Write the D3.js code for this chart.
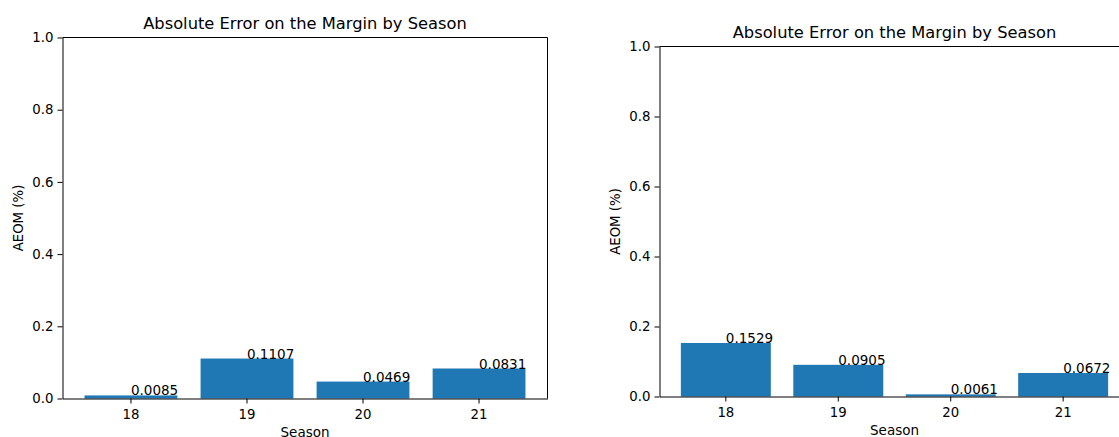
<!DOCTYPE html>
<head>
    <meta charset="utf-8">
    <script src="https://d3js.org/d3.v7.min.js"></script>
    <style>
        body { margin:0; background:#fff; }
        svg { font-family: "DejaVu Sans", sans-serif; }
        .tick line, .domain { stroke: #000; }
    </style>
</head>
<body>
    <svg id="svgelem" width="1119" height="437"></svg>

    <script>
        // data
        var seasons = ["18", "19", "20", "21"];
        var leftValues = [0.0085, 0.1107, 0.0469, 0.0831];
        var rightValues = [0.1529, 0.0905, 0.0061, 0.0672];
        var yTicks = [0, 0.2, 0.4, 0.6, 0.8, 1.0];

        var svg = d3.select("#svgelem");

        function drawpanel(values, box) {
            var x = d3.scaleBand().domain(seasons).range([box.x0, box.x1])
                .paddingInner(0.2).paddingOuter(0.19);
            var y = d3.scaleLinear().domain([0, 1]).range([box.y1, box.y0]);
            var g = svg.append("g");

            // bars
            g.selectAll(".bar")
                .data(values)
                .enter().append("rect")
                .attr("class", "bar")
                .attr("x", function(d, i) { return x(seasons[i]); })
                .attr("width", x.bandwidth())
                .attr("y", function(d) { return y(d); })
                .attr("height", function(d) { return y(0) - y(d); })
                .attr("fill", "#1f77b4");

            // value labels start at bar centre, baseline on the bar top
            g.selectAll(".lbl")
                .data(values)
                .enter().append("text")
                .attr("class", "lbl")
                .attr("x", function(d, i) { return x(seasons[i]) + x.bandwidth() / 2; })
                .attr("y", function(d) { return y(d); })
                .attr("font-size", "13.5px")
                .text(function(d) { return d.toFixed(4); });

            // axes
            var xa = g.append("g").attr("transform", "translate(0," + box.y1 + ")")
                .call(d3.axisBottom(x).tickSize(5).tickPadding(6).tickSizeOuter(0));
            var ya = g.append("g").attr("transform", "translate(" + box.x0 + ",0)")
                .call(d3.axisLeft(y).tickValues(yTicks).tickFormat(d3.format(".1f"))
                    .tickSize(5).tickPadding(4).tickSizeOuter(0));
            [xa, ya].forEach(function(a) {
                a.attr("font-family", "DejaVu Sans, sans-serif");
                a.selectAll("text").attr("font-size", "13.3px").attr("fill", "#000");
            });
            // top and right spines
            g.append("line").attr("x1", box.x0).attr("x2", box.x1)
                .attr("y1", box.y0).attr("y2", box.y0).attr("stroke", "#000");
            g.append("line").attr("x1", box.x1).attr("x2", box.x1)
                .attr("y1", box.y0).attr("y2", box.y1).attr("stroke", "#000");

            var cx = (box.x0 + box.x1) / 2;
            g.append("text").attr("x", cx).attr("y", box.y0 - 9)
                .attr("text-anchor", "middle").attr("font-size", "16.3px")
                .text("Absolute Error on the Margin by Season");
            g.append("text").attr("x", cx).attr("y", box.y1 + 38)
                .attr("text-anchor", "middle").attr("font-size", "13.5px")
                .text("Season");
            g.append("text")
                .attr("transform", "translate(" + (box.x0 - 40) + "," + ((box.y0 + box.y1) / 2) + ") rotate(-90)")
                .attr("text-anchor", "middle").attr("font-size", "13.3px")
                .text("AEOM (%)");
        }

        drawpanel(leftValues, {x0: 62.5, x1: 547.5, y0: 37.5, y1: 398.5});
        drawpanel(rightValues, {x0: 659.5, x1: 1129.5, y0: 46.5, y1: 396.5});
    </script>
</body>
